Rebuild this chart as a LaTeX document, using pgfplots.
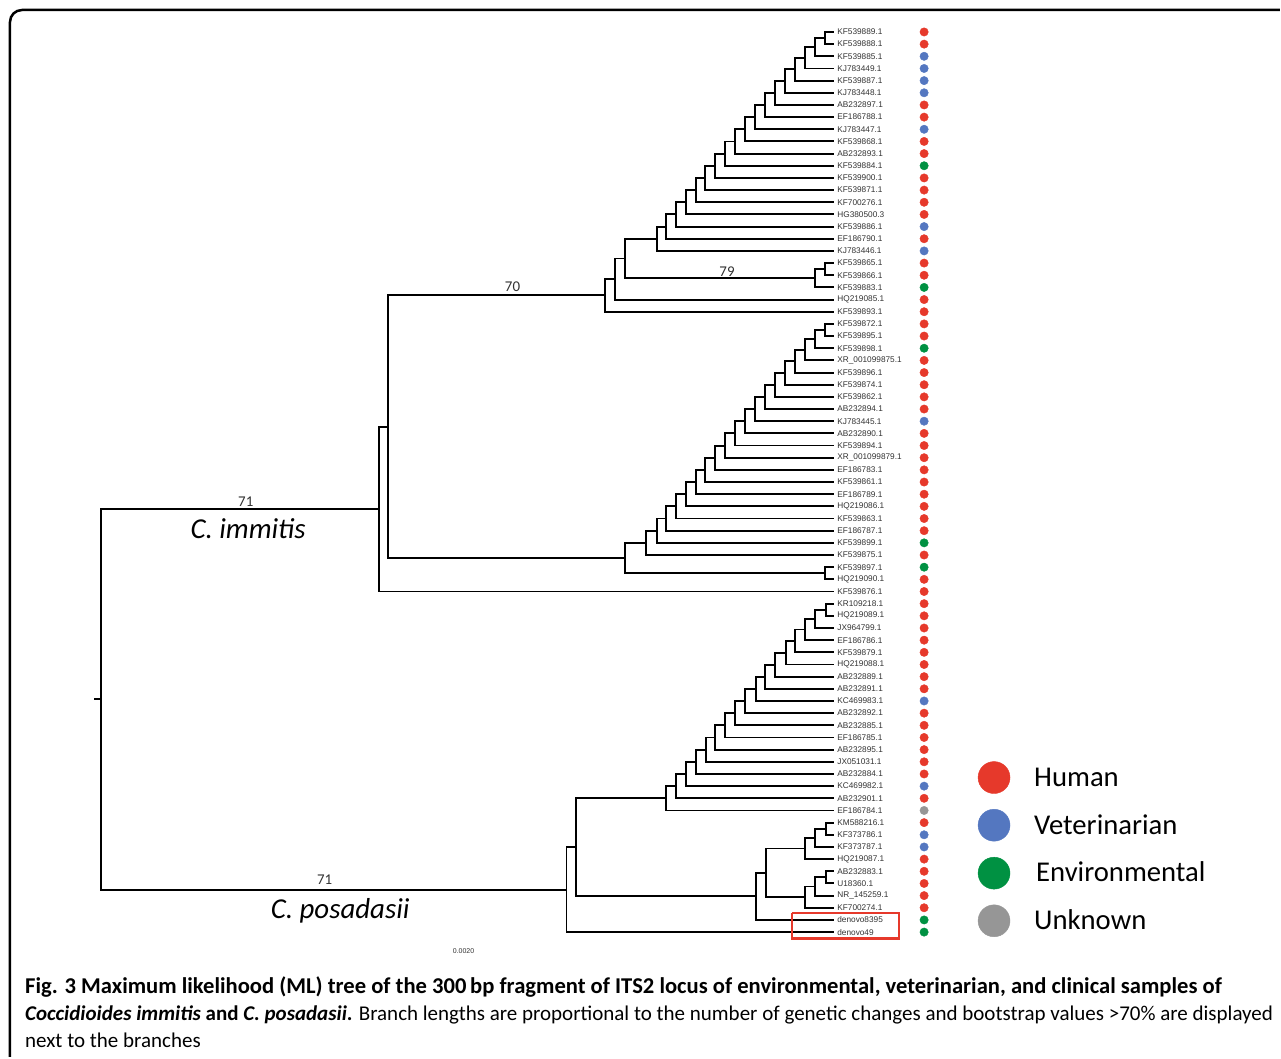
\documentclass[border=0pt]{standalone}
\usepackage{pgfplots}
\pgfplotsset{compat=1.18}
\usepackage{pgfplotstable}
\usepackage{fontspec}
\setmainfont{Carlito}
\newfontfamily\lab{Liberation Sans}
\definecolor{hred}{RGB}{230,57,43}
\definecolor{vblue}{RGB}{84,119,192}
\definecolor{egreen}{RGB}{0,145,66}
\definecolor{ugray}{RGB}{150,150,150}
\definecolor{labgray}{RGB}{50,50,50}

\pgfplotstableread{
y lab cat
32.00 KF539889.1 h
44.18 KF539888.1 h
56.35 KF539885.1 v
68.53 KJ783449.1 v
80.70 KF539887.1 v
92.88 KJ783448.1 v
105.05 AB232897.1 h
117.23 EF186788.1 h
129.41 KJ783447.1 v
141.58 KF539868.1 h
153.76 AB232893.1 h
165.93 KF539884.1 e
178.11 KF539900.1 h
190.29 KF539871.1 h
202.46 KF700276.1 h
214.64 HG380500.3 h
226.81 KF539886.1 v
238.99 EF186790.1 h
251.16 KJ783446.1 v
263.34 KF539865.1 h
275.52 KF539866.1 h
287.69 KF539883.1 e
299.87 HQ219085.1 h
312.04 KF539893.1 h
324.22 KF539872.1 h
336.39 KF539895.1 h
348.57 KF539898.1 e
360.75 XR\_001099875.1 h
372.92 KF539896.1 h
385.10 KF539874.1 h
397.27 KF539862.1 h
409.45 AB232894.1 h
421.62 KJ783445.1 v
433.80 AB232890.1 h
445.98 KF539894.1 h
458.15 XR\_001099879.1 h
470.33 EF186783.1 h
482.50 KF539861.1 h
494.68 EF186789.1 h
506.85 HQ219086.1 h
519.03 KF539863.1 h
531.21 EF186787.1 h
543.38 KF539899.1 e
555.56 KF539875.1 h
567.73 KF539897.1 e
579.91 HQ219090.1 h
592.08 KF539876.1 h
604.26 KR109218.1 h
616.44 HQ219089.1 h
628.61 JX964799.1 h
640.79 EF186786.1 h
652.96 KF539879.1 h
665.14 HQ219088.1 h
677.31 AB232889.1 h
689.49 AB232891.1 h
701.67 KC469983.1 v
713.84 AB232892.1 h
726.02 AB232885.1 h
738.19 EF186785.1 h
750.37 AB232895.1 h
762.54 JX051031.1 h
774.72 AB232884.1 h
786.90 KC469982.1 v
799.07 AB232901.1 h
811.25 EF186784.1 u
823.42 KM588216.1 h
835.60 KF373786.1 v
847.77 KF373787.1 v
859.95 HQ219087.1 h
872.13 AB232883.1 h
884.30 U18360.1 h
896.48 NR\_145259.1 h
908.65 KF700274.1 h
920.83 denovo8395 e
933.00 denovo49 e
}\leaves

\pgfplotstableread{
x y
834 32.00
826 32.00
826 44.18
834 44.18
nan nan
826 38.09
816 38.09
816 56.35
834 56.35
nan nan
816 47.22
806 47.22
806 68.53
834 68.53
nan nan
806 57.88
796 57.88
796 80.70
834 80.70
nan nan
796 69.29
786 69.29
786 92.88
834 92.88
nan nan
786 81.09
776 81.09
776 105.05
834 105.05
nan nan
776 93.07
766 93.07
766 117.23
834 117.23
nan nan
766 105.15
756 105.15
756 129.41
834 129.41
nan nan
756 117.28
746 117.28
746 141.58
834 141.58
nan nan
746 129.43
736 129.43
736 153.76
834 153.76
nan nan
736 141.60
726 141.60
726 165.93
834 165.93
nan nan
726 153.77
716 153.77
716 178.11
834 178.11
nan nan
716 165.94
706 165.94
706 190.29
834 190.29
nan nan
706 178.12
697 178.12
697 202.46
834 202.46
nan nan
697 190.29
687 190.29
687 214.64
834 214.64
nan nan
687 202.47
677 202.47
677 226.81
834 226.81
nan nan
677 214.64
667 214.64
667 238.99
834 238.99
nan nan
667 226.82
658 226.82
658 251.16
834 251.16
nan nan
834 263.34
826 263.34
826 275.52
834 275.52
nan nan
826 269.43
816 269.43
816 287.69
834 287.69
nan nan
658 238.99
626 238.99
626 278.56
816 278.56
nan nan
626 258.78
616 258.78
616 299.87
834 299.87
nan nan
616 279.32
606 279.32
606 312.04
834 312.04
nan nan
834 324.22
826 324.22
826 336.39
834 336.39
nan nan
826 330.31
816 330.31
816 348.57
834 348.57
nan nan
816 339.44
806 339.44
806 360.75
834 360.75
nan nan
806 350.10
796 350.10
796 372.92
834 372.92
nan nan
796 361.51
786 361.51
786 385.10
834 385.10
nan nan
786 373.31
776 373.31
776 397.27
834 397.27
nan nan
776 385.29
766 385.29
766 409.45
834 409.45
nan nan
766 397.37
756 397.37
756 421.62
834 421.62
nan nan
756 409.50
746 409.50
746 433.80
834 433.80
nan nan
746 421.65
736 421.65
736 445.98
834 445.98
nan nan
736 433.82
726 433.82
726 458.15
834 458.15
nan nan
726 445.99
716 445.99
716 470.33
834 470.33
nan nan
716 458.16
706 458.16
706 482.50
834 482.50
nan nan
706 470.33
697 470.33
697 494.68
834 494.68
nan nan
697 482.51
687 482.51
687 506.85
834 506.85
nan nan
687 494.68
677 494.68
677 519.03
834 519.03
nan nan
677 506.86
667 506.86
667 531.21
834 531.21
nan nan
667 519.04
658 519.04
658 543.38
834 543.38
nan nan
658 531.21
647 531.21
647 555.56
834 555.56
nan nan
834 567.73
826 567.73
826 579.91
834 579.91
nan nan
647 543.39
626 543.39
626 573.82
826 573.82
nan nan
606 295.68
388 295.68
388 558.61
626 558.61
nan nan
388 427.14
379 427.14
379 592.08
834 592.08
nan nan
834 604.26
827 604.26
827 616.44
834 616.44
nan nan
827 610.35
816 610.35
816 628.61
834 628.61
nan nan
816 619.48
806 619.48
806 640.79
834 640.79
nan nan
806 630.14
796 630.14
796 652.96
834 652.96
nan nan
796 641.55
787 641.55
787 665.14
834 665.14
nan nan
787 653.35
776 653.35
776 677.31
834 677.31
nan nan
776 665.33
766 665.33
766 689.49
834 689.49
nan nan
766 677.41
757 677.41
757 701.67
834 701.67
nan nan
757 689.54
746 689.54
746 713.84
834 713.84
nan nan
746 701.69
736 701.69
736 726.02
834 726.02
nan nan
736 713.86
726 713.86
726 738.19
834 738.19
nan nan
726 726.03
716 726.03
716 750.37
834 750.37
nan nan
716 738.20
707 738.20
707 762.54
834 762.54
nan nan
707 750.37
697 750.37
697 774.72
834 774.72
nan nan
697 762.55
687 762.55
687 786.90
834 786.90
nan nan
687 774.73
677 774.73
677 799.07
834 799.07
nan nan
677 786.90
667 786.90
667 811.25
834 811.25
nan nan
834 823.42
827 823.42
827 835.60
834 835.60
nan nan
827 829.51
816 829.51
816 847.77
834 847.77
nan nan
816 838.64
806 838.64
806 859.95
834 859.95
nan nan
834 872.13
827 872.13
827 884.30
834 884.30
nan nan
827 878.22
816 878.22
816 896.48
834 896.48
nan nan
816 887.35
806 887.35
806 908.65
834 908.65
nan nan
806 849.30
767 849.30
767 898.00
806 898.00
nan nan
767 873.65
757 873.65
757 920.83
834 920.83
nan nan
667 799.08
577 799.08
577 897.24
757 897.24
nan nan
577 848.16
567 848.16
567 933.00
834 933.00
nan nan
379 509.61
101 509.61
101 890.58
567 890.58
nan nan
95 700.10
101 700.10
}\tree

\begin{document}
\begin{tikzpicture}
\begin{axis}[
  width=1281bp, height=1058bp, scale only axis,
  xmin=0, xmax=1281, ymin=0, ymax=1058, y dir=reverse,
  hide axis, clip=false,
  unbounded coords=jump,
]
% bounding corners
\addplot[draw=none, mark=none, forget plot] coordinates {(0,0) (1281,1058)};
% frame
\addplot[black, line width=2.5bp, rounded corners=12bp, mark=none] coordinates {(10,1058) (10,10) (1281,10)};
% tree
\addplot[black, line width=1.9bp, mark=none, line cap=rect] table[x=x, y=y] {\tree};
% leaf dots
\addplot[scatter, only marks, scatter src=explicit symbolic,
  scatter/classes={h={mark=*, draw=hred, fill=hred}, v={mark=*, draw=vblue, fill=vblue}, e={mark=*, draw=egreen, fill=egreen}, u={mark=*, draw=ugray, fill=ugray}},
  mark size=4.2bp] table[x expr=925, y=y, meta=cat] {\leaves};
% leaf labels
\addplot[only marks, mark=none, nodes near coords, point meta=explicit symbolic,
  nodes near coords style={anchor=west, inner sep=0pt, text=labgray, font=\lab\fontsize{8.3}{9}\selectfont}]
  table[x expr=838, y=y, meta=lab] {\leaves};
% red box
\addplot[hred, line width=2.5bp, mark=none] coordinates {(793,914) (900,914) (900,939.5) (793,939.5) (793,914)};
% legend markers
\addplot[scatter, only marks, scatter src=explicit symbolic,
  scatter/classes={h={mark=*, draw=hred, fill=hred}, v={mark=*, draw=vblue, fill=vblue}, e={mark=*, draw=egreen, fill=egreen}, u={mark=*, draw=ugray, fill=ugray}},
  mark size=16bp] table[meta=cat] {
x y cat
995 778.3 h
995 826 v
995 874 e
995 921.7 u
};
% texts
\node[anchor=base west, inner sep=0pt, font=\fontsize{28.8}{30}\selectfont] at (axis cs:1035,787.3) {Human};
\node[anchor=base west, inner sep=0pt, font=\fontsize{28.8}{30}\selectfont] at (axis cs:1035,835) {Veterinarian};
\node[anchor=base west, inner sep=0pt, font=\fontsize{28.8}{30}\selectfont] at (axis cs:1037,882.7) {Environmental};
\node[anchor=base west, inner sep=0pt, font=\fontsize{28.8}{30}\selectfont] at (axis cs:1035,930.7) {Unknown};

\node[inner sep=0pt, text=labgray, font=\fontsize{15}{18}\selectfont] at (axis cs:513,287) {70};
\node[inner sep=0pt, text=labgray, font=\fontsize{15}{18}\selectfont] at (axis cs:727.7,271.7) {79};
\node[inner sep=0pt, text=labgray, font=\fontsize{15}{18}\selectfont] at (axis cs:246,502.5) {71};
\node[inner sep=0pt, text=labgray, font=\fontsize{15}{18}\selectfont] at (axis cs:325,881) {71};
\node[anchor=base, inner sep=0pt, font=\itshape\fontsize{29}{32}\selectfont] at (axis cs:248.3,539.5) {C. immitis};
\node[anchor=base, inner sep=0pt, font=\itshape\fontsize{29}{32}\selectfont] at (axis cs:340.5,919.3) {C. posadasii};
\node[inner sep=0pt, text=labgray, font=\lab\fontsize{7}{8}\selectfont] at (axis cs:464,952) {0.0020};

\node[anchor=base west, inner sep=0pt, font=\bfseries\fontsize{22.7}{24}\selectfont] at (axis cs:25,994.4) {Fig. 3 Maximum likelihood (ML) tree of the 300\,bp fragment of ITS2 locus of environmental, veterinarian, and clinical samples of};
\node[anchor=base west, inner sep=0pt, font=\fontsize{21.1}{24}\selectfont] at (axis cs:25,1021.3) {\textbf{\textit{Coccidioides immitis}} \textbf{and \textit{C. posadasii}.} Branch lengths are proportional to the number of genetic changes and bootstrap values >70\% are displayed};
\node[anchor=base west, inner sep=0pt, font=\fontsize{21.1}{24}\selectfont] at (axis cs:25,1048.7) {next to the branches};
\end{axis}
\end{tikzpicture}
\end{document}
